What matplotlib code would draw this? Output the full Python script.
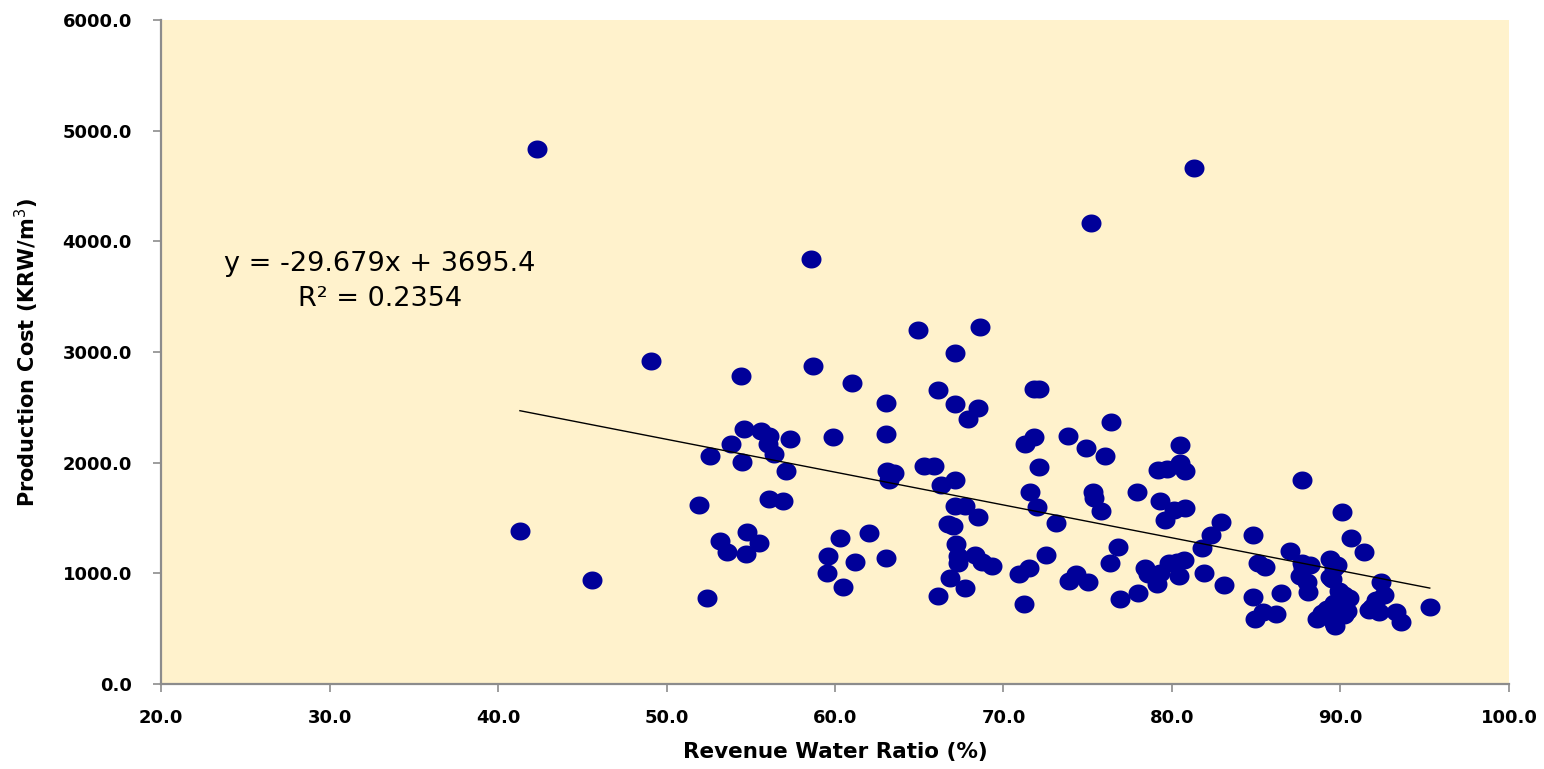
import numpy as np
import matplotlib
matplotlib.use("Agg")
from matplotlib import pyplot as plt
from matplotlib.ticker import FormatStrFormatter

# Revenue water ratio (%) and production cost (KRW/m3)
revenue_ratio = [
    41.3, 42.3, 45.6, 49.1,
    51.9, 52.4, 52.6, 53.2, 53.6, 53.8, 54.4, 54.5, 54.6, 54.7, 54.8, 55.5,
    55.6, 56.0, 56.1, 56.1, 56.4, 56.9, 57.1, 57.3,
    58.6, 58.7, 59.5, 59.6, 59.9, 60.3, 60.5, 61.0, 61.2, 62.0, 63.0, 63.0,
    63.0, 63.1, 63.2, 63.5, 64.9, 65.3, 65.9, 66.1, 66.1, 66.3, 66.7, 66.8,
    67.0, 67.1, 67.1, 67.1, 67.1, 67.2, 67.3, 67.3, 67.7, 67.7, 67.9, 68.3,
    68.5, 68.5, 68.6, 68.7, 69.3,
    70.9, 71.2, 71.3, 71.5, 71.6, 71.8, 71.8, 72.0, 72.1, 72.1, 72.5, 73.1,
    73.8, 73.9, 74.3, 74.9, 75.0, 75.2, 75.3, 75.4, 75.8,
    76.0, 76.3, 76.4, 76.8, 76.9, 77.9, 78.0, 78.4, 78.6, 79.1, 79.2, 79.3,
    79.3, 79.6, 79.7, 79.8, 80.1, 80.3, 80.4, 80.5, 80.5, 80.7, 80.8, 80.8,
    81.3, 81.8, 81.9, 82.3, 82.9, 83.1, 84.8, 84.8, 84.9, 85.1, 85.4, 85.5,
    86.2, 86.5,
    87.0, 87.6, 87.7, 87.7, 87.8, 88.0, 88.1, 88.2, 88.6, 88.9, 89.2, 89.4,
    89.4, 89.5, 89.6, 89.6, 89.6, 89.7, 89.8, 89.9, 90.1, 90.2, 90.2, 90.4,
    90.5, 90.6, 91.4, 91.7, 91.9, 92.1, 92.3, 92.4, 92.6, 93.3, 93.6, 95.3,
]
production_cost = [
    1385, 4835, 940, 2920,
    1617, 778, 2060, 1289, 1192, 2169, 2785, 2004, 2307, 1175, 1375, 1271,
    2290, 2169, 2238, 1669, 2076, 1651, 1921, 2214,
    3840, 2877, 1006, 1158, 2231, 1323, 874, 2722, 1099, 1368, 2542, 2256,
    1140, 1928, 1841, 1910, 3195, 1969, 1969, 2653, 795, 1800, 1444, 961,
    1427, 2991, 2532, 1841, 1610, 1265, 1158, 1092, 1610, 867, 2394, 1168,
    2497, 1506, 3222, 1099, 1064,
    995, 719, 2169, 1047, 1738, 2231, 2663, 1600, 1962, 2663, 1168, 1455,
    2243, 933, 995, 2133, 926, 4170, 1738, 1678, 1566,
    2060, 1090, 2370, 1241, 765, 1732, 820, 1050, 990, 900, 1934, 1657,
    1000, 1482, 1940, 1091, 1572, 1105, 980, 2160, 1994, 1120, 1928, 1593,
    4660, 1226, 1006, 1350, 1467, 895, 1346, 789, 584, 1090, 654, 1060,
    630, 819,
    1205, 980, 1843, 1096, 1045, 925, 830, 1075, 590, 640, 680, 1127,
    970, 950, 1045, 730, 548, 520, 1075, 840, 1557, 620, 800, 660,
    775, 1316, 1190, 670, 700, 760, 655, 920, 804, 655, 560, 693,
]

# Trend line as reported on the chart
slope = -29.679
intercept = 3695.4
r_squared = 0.2354

x_ticks = np.arange(20, 101, 10)
y_ticks = np.arange(0, 6001, 1000)

# slightly flattened circle, like the Excel marker
theta = np.linspace(0, 2 * np.pi, 64)
ellipse = np.column_stack([np.cos(theta), 0.9 * np.sin(theta)])

fig = plt.figure(figsize=(15.44, 7.69), dpi=100)
ax = fig.add_axes([0.1043, 0.1105, 0.8730, 0.8635])
ax.set_facecolor('#FFF2CC')

ax.plot(revenue_ratio, production_cost, linestyle='none', marker=ellipse,
        markersize=14.4, color='#000099', markeredgewidth=0, zorder=3)

xs = np.array([min(revenue_ratio), max(revenue_ratio)])
ax.plot(xs, slope * xs + intercept, color='black', linewidth=1.0, zorder=4)

ax.text(33.0, 3640, 'y = %.3fx + %.1f\nR² = %.4f' % (slope, intercept, r_squared),
        ha='center', va='center', multialignment='center', fontsize=19.5,
        linespacing=1.45, color='black')

ax.set_xlim(20, 100)
ax.set_ylim(0, 6000)
ax.set_xticks(x_ticks)
ax.set_yticks(y_ticks)
ax.xaxis.set_major_formatter(FormatStrFormatter('%.1f'))
ax.yaxis.set_major_formatter(FormatStrFormatter('%.1f'))

for side in ['top', 'right']:
    ax.spines[side].set_visible(False)
for side in ['left', 'bottom']:
    ax.spines[side].set_color('#8C8C8C')
    ax.spines[side].set_linewidth(1.6)

ax.tick_params(direction='out', length=6, width=1.2, color='#8C8C8C', labelsize=13)
ax.tick_params(axis='x', pad=12)
ax.tick_params(axis='y', pad=15)
for lab in ax.get_xticklabels() + ax.get_yticklabels():
    lab.set_fontweight('bold')

ax.set_xlabel('Revenue Water Ratio (%)', fontsize=15.5, fontweight='bold', va='center')
ax.set_ylabel('Production Cost (KRW/m$^{3}$)', fontsize=15, fontweight='bold', va='center')
ax.xaxis.set_label_coords(0.5, -0.1024)
ax.yaxis.set_label_coords(-0.0994, 0.5)

fig.savefig('out.png', dpi=100)
